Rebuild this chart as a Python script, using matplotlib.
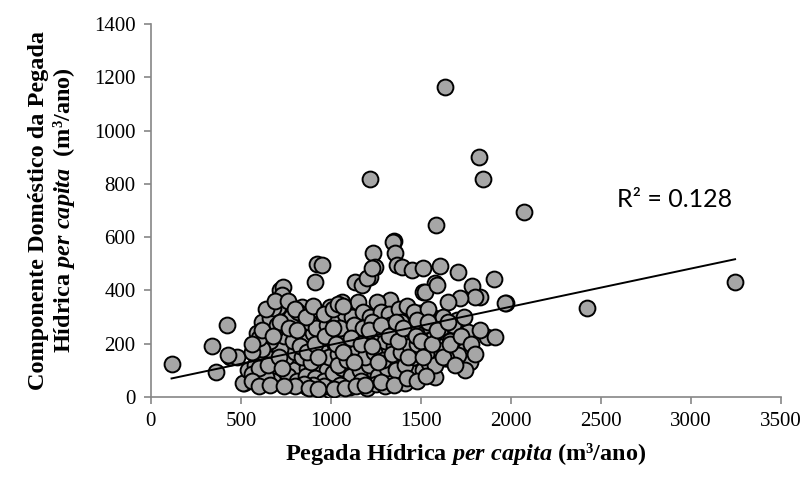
import matplotlib
matplotlib.use("Agg")
import matplotlib.pyplot as plt
import numpy as np

plt.rcParams['font.family'] = ['Liberation Serif', 'DejaVu Serif']
plt.rcParams['mathtext.fontset'] = 'custom'
plt.rcParams['mathtext.rm'] = 'Liberation Serif:bold'
plt.rcParams['mathtext.it'] = 'Liberation Serif:italic:bold'
plt.rcParams['mathtext.bf'] = 'Liberation Serif:bold'

# Pegada Hídrica per capita (x) and Componente Doméstico (y), m3/ano
footprint_total = [
    115, 339, 361, 422, 439, 478, 517, 578, 617, 661, 706, 717, 733, 728,
    1635, 1825, 1845, 1220, 2075, 1582, 1350, 2425, 3245, 1975, 1906, 1867, 1911, 1828,
    922, 952, 911, 1233, 1344, 1356, 1244, 1217, 1161, 1133, 1328, 1256, 1150, 1061, 994, 839, 678,
    1172, 1200, 1228, 1367, 1394, 1450, 1511, 1606, 1706, 1578, 1783, 1511, 1800, 1717, 1650, 1522, 1589,
    1494, 1700, 1422, 1344, 1633, 1761, 1567, 1450, 1356, 1594, 1700, 1744, 1772, 1744, 1633, 1550,
    1400, 1328, 1456, 1578, 1411, 1511, 1339, 1706, 1639, 1544, 1967, 1494,
    950, 1067, 772, 1256, 1161, 994, 844, 733, 700, 772, 872, 950, 1089, 1200, 1311, 1344,
    700, 828, 939, 1033, 1144, 1217, 1300, 867, 994, 1106, 772, 1200, 1289, 1356, 717, 883, 1033, 1144,
    428, 511, 622, 672, 772, 644, 789, 867, 978, 883, 1011, 1122, 928, 1094, 950, 1078, 1161, 1233, 1289,
    1344, 1233, 1317,
    750, 800, 850, 900, 950, 1000, 1050, 1100, 1150, 1200, 1250, 1300, 1350, 1400, 1450, 1500,
    780, 820, 880, 920, 980, 1020, 1080, 1120, 1180, 1220, 1280, 1320, 1380, 1420, 1460,
    760, 810, 860, 910, 960, 1010, 1060, 1110, 1160, 1210, 1260, 1310, 1360, 1410, 1460, 1490,
    720, 740, 790, 840, 890, 940, 990, 1040, 1090, 1140, 1190, 1240, 1290, 1340, 1390, 1440,
    1000, 1050, 1130, 1180, 1230, 1270, 1330, 1390, 1040, 1090, 1170, 1250, 1300, 1050, 960, 900, 850, 800,
    540, 580, 610, 640, 660, 690, 650, 620, 590, 700, 720, 560, 600, 560, 620, 680, 640, 600, 650,
    1520, 1560, 1610, 1480, 1530, 1620, 1660, 1470, 1540, 1580, 1680,
    640, 690, 760, 800, 860, 900, 960, 1010, 1040, 1070,
    560, 600, 660, 740, 880, 930, 1020, 1080, 1140, 1190, 1280, 1350, 1420, 1480, 1530,
    560, 620, 680, 710, 730, 770, 810, 830, 870, 910, 930, 970, 1010, 1030, 1070,
    1110, 1130, 1170, 1210, 1230, 1260, 1280, 1320, 1360, 1370, 1400, 1430, 1470, 1480,
    1500, 1510, 1540, 1560, 1590, 1620, 1650, 1660, 1690, 1720, 1740, 1780, 1800, 1830,
]
footprint_domestic = [
    125, 191, 94, 270, 150, 150, 53, 191, 282, 297, 338, 402, 413, 383,
    1162, 900, 818, 818, 696, 646, 585, 334, 432, 353, 443, 225, 225, 375,
    500, 497, 432, 540, 582, 540, 488, 450, 428, 432, 364, 357, 357, 357, 338, 338, 334,
    420, 447, 484, 495, 488, 477, 484, 492, 468, 428, 418, 394, 375, 370, 357, 394, 420,
    315, 289, 282, 289, 244, 244, 233, 206, 252, 176, 158, 176, 131, 101, 146, 131,
    139, 176, 90, 75, 53, 101, 64, 158, 146, 128, 353, 290,
    252, 240, 252, 289, 278, 300, 289, 278, 214, 188, 195, 165, 158, 176, 195, 240,
    101, 109, 101, 75, 90, 64, 90, 38, 26, 38, 53, 34, 53, 139, 139, 131, 128, 131,
    158, 53, 64, 195, 252, 139, 101, 109, 101, 53, 34, 165, 158, 233, 259, 53, 56, 101, 158,
    64, 244, 278,
    150, 170, 220, 240, 200, 180, 210, 260, 230, 210, 230, 210, 190, 230, 250, 260,
    300, 320, 280, 260, 270, 290, 310, 300, 320, 300, 320, 310, 330, 340, 320,
    80, 60, 80, 70, 60, 90, 110, 80, 100, 120, 80, 110, 100, 120, 150, 180,
    180, 230, 210, 150, 130, 180, 150, 160, 190, 170, 150, 170, 140, 160, 170, 190,
    230, 260, 270, 260, 280, 260, 270, 280, 120, 140, 60, 50, 40, 45, 40, 45, 50, 40,
    100, 120, 60, 150, 210, 250, 240, 180, 240, 270, 280, 170, 220, 85, 90, 60, 75, 110, 120,
    270, 300, 260, 200, 160, 300, 210, 240, 330, 120, 270,
    330, 360, 360, 330, 300, 340, 310, 330, 350, 340,
    60, 40, 45, 40, 35, 30, 30, 35, 40, 45, 55, 45, 70, 60, 80,
    200, 250, 230, 150, 110, 260, 250, 190, 170, 200, 150, 230, 260, 200, 170,
    220, 130, 200, 250, 190, 130, 270, 230, 280, 210, 260, 150, 230, 290,
    210, 150, 280, 200, 250, 150, 280, 200, 120, 230, 300, 200, 160, 250,
]

trend_slope = 0.143
trend_intercept = 53
r2_label = "R² = 0.128"

x_ticks = [0, 500, 1000, 1500, 2000, 2500, 3000, 3500]
y_ticks = [0, 200, 400, 600, 800, 1000, 1200, 1400]

fig = plt.figure(figsize=(8.11, 4.80), dpi=100)
ax = fig.add_axes([0.186, 0.173, 0.777, 0.777])

ax.scatter(footprint_total, footprint_domestic, s=130, facecolor='#a6a6a6',
           edgecolor='black', linewidth=1.4, zorder=3)

xs = np.array([min(footprint_total), max(footprint_total)])
ax.plot(xs, trend_slope * xs + trend_intercept, color='black', linewidth=1.4, zorder=4)

ax.text(2590, 740, r2_label, fontsize=18, family=['Lato', 'DejaVu Sans'],
        va='center', ha='left')

ax.set_xlim(0, 3500)
ax.set_ylim(0, 1400)
ax.set_xticks(x_ticks)
ax.set_yticks(y_ticks)
ax.tick_params(axis='both', labelsize=15, color='#868686', length=5, width=1.2,
               direction='out', labelcolor='black', pad=6)
for side in ['top', 'right']:
    ax.spines[side].set_visible(False)
for side in ['left', 'bottom']:
    ax.spines[side].set_color('#868686')
    ax.spines[side].set_linewidth(1.2)

ax.set_xlabel(r"Pegada Hídrica $\mathit{per\ capita}$ (m³/ano)", fontsize=17.5,
              fontweight='bold', labelpad=7)
ax.set_ylabel("Componente Doméstico da Pegada\n" + r"Hídrica $\mathit{per\ capita}$  (m³/ano)",
              fontsize=17.5, fontweight='bold', labelpad=12, linespacing=1.1)

fig.savefig("out.png", dpi=100)
